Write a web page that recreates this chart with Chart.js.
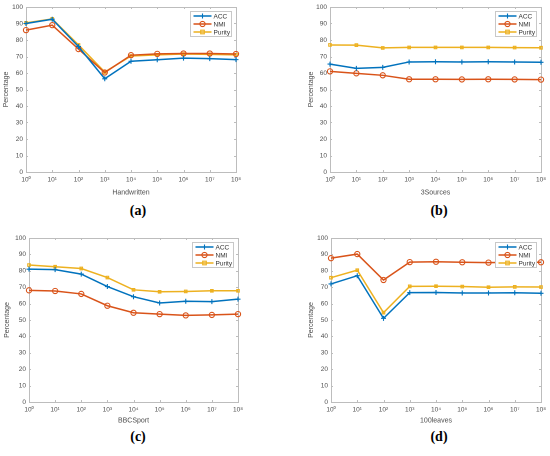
<!DOCTYPE html>
<html>
<head>
<meta charset="utf-8">
<script src="https://cdn.jsdelivr.net/npm/chart.js@4"></script>
<style>
  html, body { margin:0; padding:0; background:#fff; }
  #wrap { position:relative; width:550px; height:456px; overflow:hidden; }
  canvas { position:absolute; }
  .cap { position:absolute; width:60px; text-align:center; font-family:"Liberation Serif","Times New Roman",serif; font-weight:bold; font-size:14px; line-height:16px; color:#000; }
</style>
</head>
<body>
<div id="wrap">
  <canvas id="ca" width="275" height="200" style="left:0;top:0"></canvas>
  <canvas id="cb" width="275" height="200" style="left:275px;top:0"></canvas>
  <canvas id="cc" width="275" height="200" style="left:0;top:228px"></canvas>
  <canvas id="cd" width="275" height="200" style="left:275px;top:228px"></canvas>
  <div class="cap" style="left:108px;top:203px">(a)</div>
  <div class="cap" style="left:409px;top:203px">(b)</div>
  <div class="cap" style="left:108px;top:429px">(c)</div>
  <div class="cap" style="left:409px;top:429px">(d)</div>
</div>
<script>
// ---- data ----
const categories = ["10⁰","10¹","10²","10³","10⁴","10⁵","10⁶","10⁷","10⁸"];
const seriesNames = ["ACC","NMI","Purity"];
const yTicks = [0,10,20,30,40,50,60,70,80,90,100];

const handwrittenACC    = [90.0, 92.6, 76.0, 56.5, 67.1, 68.0, 69.0, 68.7, 68.1];
const handwrittenNMI    = [86.0, 89.0, 74.5, 60.3, 70.8, 71.6, 71.8, 71.8, 71.5];
const handwrittenPurity = [90.4, 92.8, 77.0, 60.6, 70.3, 71.0, 71.5, 71.3, 71.0];

const sourcesACC    = [65.4, 62.8, 63.4, 66.7, 66.8, 66.7, 66.8, 66.7, 66.5];
const sourcesNMI    = [61.0, 59.8, 58.6, 56.2, 56.2, 56.1, 56.2, 56.1, 56.0];
const sourcesPurity = [77.0, 76.9, 75.2, 75.5, 75.5, 75.5, 75.5, 75.4, 75.3];

const bbcACC    = [81.0, 80.7, 78.0, 70.4, 64.2, 60.4, 61.4, 61.2, 62.7];
const bbcNMI    = [68.1, 67.7, 65.9, 58.7, 54.4, 53.6, 52.8, 53.1, 53.6];
const bbcPurity = [83.5, 82.5, 81.4, 75.9, 68.4, 67.2, 67.4, 67.8, 67.8];

const leavesACC    = [72.0, 77.0, 51.0, 66.7, 66.8, 66.5, 66.5, 66.6, 66.3];
const leavesNMI    = [87.7, 90.2, 74.4, 85.3, 85.5, 85.2, 85.0, 85.2, 85.2];
const leavesPurity = [75.8, 80.4, 54.5, 70.5, 70.6, 70.4, 70.0, 70.2, 70.1];

// ---- styles ----
const colors = ["#0072BD", "#D95319", "#EDB120"];
const pointStyles = ["cross", "circle", "rect"];
const pointRadii = [2.5, 2.6, 1.8];
const axisColor = "#bdbdbd";
const textColor = "#4d4d4d";
const fontFam = "'Liberation Sans', Arial, Helvetica, sans-serif";

const boxPlugin = {
  id: 'matlabBox',
  beforeDatasetsDraw(chart) {
    const {ctx, chartArea: a, scales} = chart;
    ctx.save();
    ctx.strokeStyle = axisColor;
    ctx.lineWidth = 1;
    ctx.strokeRect(Math.round(a.left)+0.5, Math.round(a.top)+0.5, Math.round(a.right - a.left), Math.round(a.bottom - a.top));
    const t = 2;
    ctx.beginPath();
    scales.x.ticks.forEach((tk, i) => {
      const x = Math.round(scales.x.getPixelForTick(i)) + 0.5;
      ctx.moveTo(x, a.bottom); ctx.lineTo(x, a.bottom - t);
      ctx.moveTo(x, a.top); ctx.lineTo(x, a.top + t);
    });
    scales.y.ticks.forEach((tk, i) => {
      const y = Math.round(scales.y.getPixelForTick(i)) + 0.5;
      ctx.moveTo(a.left, y); ctx.lineTo(a.left + t, y);
      ctx.moveTo(a.right, y); ctx.lineTo(a.right - t, y);
    });
    ctx.stroke();
    ctx.restore();
  },
  afterDatasetsDraw(chart) {
    const {ctx, chartArea: a} = chart;
    const w = 41, h = 25;
    const x0 = Math.round(a.right - 5 - w) + 0.5, y0 = Math.round(a.top + 4) + 0.5;
    ctx.save();
    ctx.fillStyle = "#fff";
    ctx.fillRect(x0, y0, w, h);
    ctx.strokeStyle = "#c8c8c8";
    ctx.lineWidth = 1;
    ctx.strokeRect(x0, y0, w, h);
    chart.data.datasets.forEach((ds, i) => {
      const y = y0 + 4.5 + i * 8;
      ctx.strokeStyle = ds.borderColor;
      ctx.lineWidth = 1.5;
      ctx.beginPath();
      ctx.moveTo(x0 + 3, y); ctx.lineTo(x0 + 21, y);
      ctx.stroke();
      const mx = x0 + 12;
      ctx.lineWidth = 1.1;
      ctx.beginPath();
      if (ds.pointStyle === 'cross') {
        ctx.moveTo(mx - 2.5, y); ctx.lineTo(mx + 2.5, y);
        ctx.moveTo(mx, y - 2.5); ctx.lineTo(mx, y + 2.5);
        ctx.stroke();
      } else if (ds.pointStyle === 'circle') {
        ctx.arc(mx, y, 2.6, 0, Math.PI * 2);
        ctx.stroke();
      } else {
        ctx.rect(mx - 1.8, y - 1.8, 3.6, 3.6);
        ctx.stroke();
      }
      ctx.fillStyle = "#333";
      ctx.font = "6.5px " + fontFam;
      ctx.textBaseline = "middle";
      ctx.textAlign = "left";
      ctx.fillText(ds.label, x0 + 23, y + 0.5);
    });
    ctx.restore();
  }
};

function makeChart(id, title, values, pad, yW, xH) {
  const datasets = values.map((v, i) => ({
    label: seriesNames[i],
    data: v,
    borderColor: colors[i],
    backgroundColor: colors[i],
    borderWidth: 1.5,
    pointStyle: pointStyles[i],
    pointRadius: pointRadii[i],
    pointBorderWidth: 1.1,
    pointBackgroundColor: 'rgba(255,255,255,0)',
    pointBorderColor: colors[i],
    tension: 0,
    fill: false
  }));
  return new Chart(document.getElementById(id), {
    type: 'line',
    data: { labels: categories, datasets },
    options: {
      responsive: false,
      animation: false,
      devicePixelRatio: 2,
      layout: { padding: pad },
      plugins: { legend: { display: false }, tooltip: { enabled: false } },
      scales: {
        x: {
          type: 'category',
          offset: false,
          grid: { display: false, drawTicks: false },
          border: { display: false },
          ticks: { color: textColor, font: { size: 6.5, family: fontFam }, padding: 4, maxRotation: 0, autoSkip: false },
          title: { display: true, text: title, color: textColor, font: { size: 7, family: fontFam }, padding: { top: 0, bottom: 3 } },
          afterFit(s) { s.height = xH; }
        },
        y: {
          min: 0, max: 100,
          afterBuildTicks(s) { s.ticks = yTicks.map(v => ({ value: v })); },
          grid: { display: false, drawTicks: false },
          border: { display: false },
          ticks: { color: textColor, font: { size: 6.5, family: fontFam }, padding: 3 },
          title: { display: true, text: 'Percentage', color: textColor, font: { size: 7, family: fontFam }, padding: { top: 2, bottom: 0 } },
          afterFit(s) { s.width = yW; }
        }
      }
    },
    plugins: [boxPlugin]
  });
}

makeChart('ca', 'Handwritten', [handwrittenACC, handwrittenNMI, handwrittenPurity], { left: 0, top: 7, right: 39, bottom: 0 }, 26, 28);
makeChart('cb', '3Sources', [sourcesACC, sourcesNMI, sourcesPurity], { left: 30, top: 7, right: 9, bottom: 0 }, 25, 28);
makeChart('cc', 'BBCSport', [bbcACC, bbcNMI, bbcPurity], { left: 1, top: 10, right: 37, bottom: 0 }, 28, 26);
makeChart('cd', '100leaves', [leavesACC, leavesNMI, leavesPurity], { left: 30, top: 10, right: 9, bottom: 0 }, 26, 26);
</script>
</body>
</html>
